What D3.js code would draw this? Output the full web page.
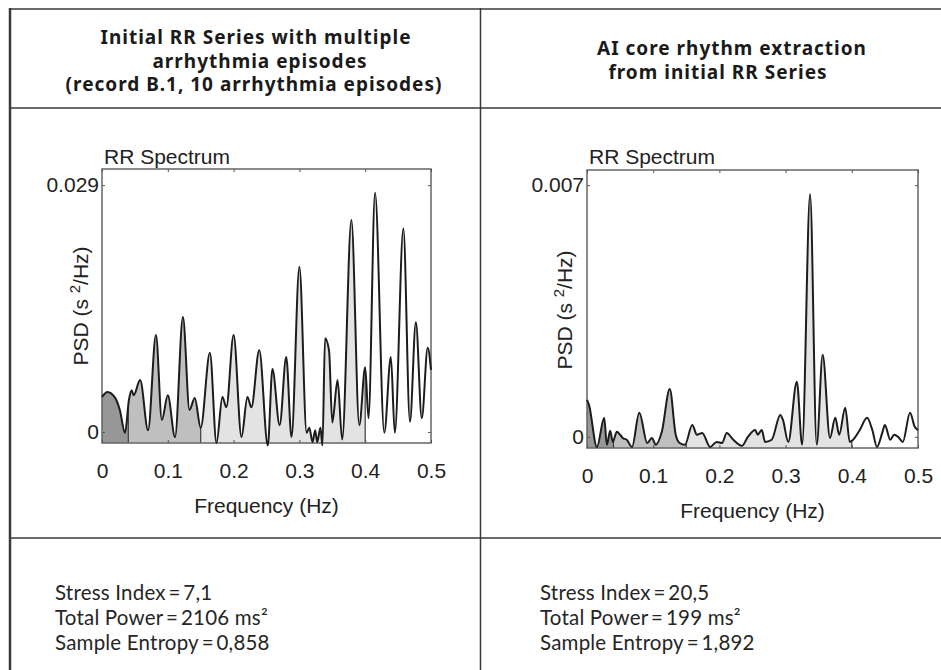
<!DOCTYPE html>
<html>
<head>
<meta charset="utf-8">
<script src="https://cdn.jsdelivr.net/npm/d3@7"></script>
<style>
  body { margin: 0; background: #fff; }
  .mat text { font-family: "Liberation Sans", Arial, sans-serif; fill: #222; }
  .hdr { font-family: "Noto Sans", "Open Sans", sans-serif; font-weight: 700; fill: #1a1a1a; letter-spacing: 1px; }
  .stat { font-family: Lato, "Open Sans", sans-serif; font-weight: 400; fill: #262626; letter-spacing: 0.2px; }
</style>
</head>
<body>
<svg id="chart" width="941" height="670"></svg>
<script>
// ---- data ----
var freqTicks = [0, 0.1, 0.2, 0.3, 0.4, 0.5];
var bandNames = ["VLF", "LF", "HF"];
var bandEdges = [0, 0.04, 0.15, 0.4];

// initial RR series (record B.1)
var leftFreq = [0, 0.008, 0.020, 0.027, 0.035, 0.041, 0.045, 0.048, 0.058, 0.070,
  0.082, 0.091, 0.100, 0.111, 0.123, 0.133, 0.141, 0.150, 0.164, 0.174,
  0.183, 0.189, 0.200, 0.212, 0.221, 0.227, 0.239, 0.252, 0.259, 0.270,
  0.280, 0.288, 0.300, 0.311, 0.315, 0.320, 0.324, 0.327, 0.332, 0.335,
  0.339, 0.345, 0.350, 0.358, 0.365, 0.379, 0.391, 0.400, 0.405, 0.415,
  0.429, 0.439, 0.445, 0.458, 0.468, 0.477, 0.486, 0.495, 0.500];
var leftPsd = [0.0041, 0.0047, 0.0040, 0.0026, -0.0001, 0.0038, 0.0049, 0.0043, 0.0061, 0.0002,
  0.0114, 0.0014, 0.0043, -0.0006, 0.0135, 0.0026, 0.0040, 0.0005, 0.0093, -0.0013,
  0.0041, 0.0029, 0.0114, -0.0006, 0.0041, 0.0029, 0.0096, -0.0016, 0.0074, 0.0008,
  0.0088, -0.0006, 0.0194, -0.0001, 0.0005, -0.0012, 0.0002, -0.0012, 0.0005, -0.0016,
  0.0110, 0.0096, 0.0011, 0.0061, -0.0009, 0.0249, 0.0008, 0.0076, 0.0016, 0.0281,
  -0.0001, 0.0088, -0.0001, 0.0239, 0.0012, 0.0129, 0.0016, 0.0099, 0.0073];
var leftYTicks = [0, 0.029];
var leftYLimits = [-0.0013, 0.0309];

// AI core rhythm
var rightFreq = [0, 0.003, 0.015, 0.026, 0.030, 0.035, 0.039, 0.045, 0.050, 0.054,
  0.060, 0.068, 0.079, 0.091, 0.098, 0.104, 0.113, 0.125, 0.134, 0.140,
  0.148, 0.159, 0.166, 0.174, 0.186, 0.196, 0.204, 0.211, 0.221, 0.234,
  0.243, 0.254, 0.258, 0.264, 0.269, 0.279, 0.292, 0.296, 0.304, 0.317,
  0.325, 0.337, 0.347, 0.356, 0.367, 0.375, 0.381, 0.390, 0.397, 0.402,
  0.412, 0.423, 0.431, 0.438, 0.446, 0.450, 0.458, 0.464, 0.470, 0.477,
  0.488, 0.495, 0.500];
var rightPsd = [0.00103, 0.00089, -0.00028, 0.00053, -0.00022, 0.00017, -0.00014, 0.00014, 0.00006, -0.00003,
  -0.00008, -0.00028, 0.00067, -0.00017, -0.00003, -0.00022, 0.00014, 0.00133, 0.00006, -0.00017,
  -0.00022, 0.00033, 0.00006, 0.00011, -0.00028, -0.00014, -0.00017, 0.00011, -0.00008, -0.00025,
  0.00000, 0.00019, 0.00006, 0.00019, -0.00014, -0.00008, 0.00061, 0.00047, -0.00014, 0.00153,
  -0.00022, 0.00675, -0.00022, 0.00228, -0.00003, 0.00053, 0.00006, 0.00081, -0.00014, -0.00008,
  0.00019, 0.00053, 0.00019, -0.00028, 0.00011, 0.00033, -0.00008, 0.00006, 0.00000, -0.00014,
  0.00067, 0.00028, 0.00019];
var rightYTicks = [0, 0.007];
var rightYLimits = [-0.00031, 0.00742];

var leftHeader = ["Initial RR Series with multiple", "arrhythmia episodes", "(record B.1, 10 arrhythmia episodes)"];
var rightHeader = ["AI core rhythm extraction", "from initial RR Series"];
var leftStats = ["Stress Index\u2009=\u20097,1", "Total Power\u2009=\u20092106 ms\u00b2", "Sample Entropy\u2009=\u20090,858"];
var rightStats = ["Stress Index\u2009=\u200920,5", "Total Power\u2009=\u2009199 ms\u00b2", "Sample Entropy\u2009=\u20091,892"];

var svg = d3.select("#chart");
var defs = svg.append("defs");

// ---- table frame ----
var frame = svg.append("g").attr("stroke", "#3a3a3a").attr("fill", "none");
frame.append("line").attr("x1", 10).attr("x2", 941).attr("y1", 9).attr("y2", 9).attr("stroke-width", 1.5);
frame.append("line").attr("x1", 10).attr("x2", 941).attr("y1", 108).attr("y2", 108).attr("stroke-width", 1.5);
frame.append("line").attr("x1", 10).attr("x2", 941).attr("y1", 538).attr("y2", 538).attr("stroke-width", 1.5);
frame.append("line").attr("x1", 10).attr("x2", 10).attr("y1", 8).attr("y2", 670).attr("stroke-width", 2.5);
frame.append("line").attr("x1", 480.5).attr("x2", 480.5).attr("y1", 8).attr("y2", 670).attr("stroke-width", 1.5);

// ---- headers ----
function draw_header(lines, xs, y0, step) {
    svg.append("g").selectAll("text")
        .data(lines)
        .enter().append("text")
        .attr("class", "hdr")
        .attr("font-size", 19)
        .attr("text-anchor", "middle")
        .attr("x", function(d, i) { return xs[i]; })
        .attr("y", function(d, i) { return y0 + i * step; })
        .text(function(d) { return d; });
}
draw_header(leftHeader, [256, 260, 254], 44, 23.5);
draw_header(rightHeader, [732, 718], 55, 24);

// ---- stats ----
function draw_stats(lines, x0) {
    svg.append("g").selectAll("text")
        .data(lines)
        .enter().append("text")
        .attr("class", "stat")
        .attr("font-size", 20.5)
        .attr("x", x0)
        .attr("y", function(d, i) { return 600 + i * 25; })
        .text(function(d) { return d; });
}
draw_stats(leftStats, 55);
draw_stats(rightStats, 540);

// ---- spectra ----
var bandColor = d3.scaleOrdinal().domain(bandNames).range(["#979797", "#bfbfbf", "#e3e3e3"]);

function draw_spectrum(id, freq, psd, yTicks, yLimits, box) {
    var x = d3.scaleLinear().domain([0, 0.5]).range([box.x0, box.x1]);
    var y = d3.scaleLinear().domain(yLimits).range([box.y1, box.y0]);
    var pts = freq.map(function(f, i) { return [f, psd[i]]; });
    var g = svg.append("g").attr("class", "mat");

    var area = d3.area()
        .x(function(d) { return x(d[0]); })
        .y0(box.y1)
        .y1(function(d) { return y(d[1]); })
        .curve(d3.curveMonotoneX);
    var line = d3.line()
        .x(function(d) { return x(d[0]); })
        .y(function(d) { return y(d[1]); })
        .curve(d3.curveMonotoneX);

    var bands = bandNames.map(function(n, i) { return { name: n, from: bandEdges[i], to: bandEdges[i + 1] }; });
    bands.forEach(function(b) {
        defs.append("clipPath").attr("id", id + "-" + b.name)
            .append("rect")
            .attr("x", x(b.from)).attr("width", x(b.to) - x(b.from))
            .attr("y", box.y0).attr("height", box.y1 - box.y0 + 10);
        g.append("path").datum(pts)
            .attr("d", area)
            .attr("fill", bandColor(b.name))
            .attr("clip-path", "url(#" + id + "-" + b.name + ")");
    });

    defs.append("clipPath").attr("id", id + "-area")
        .append("path").datum(pts).attr("d", area);
    g.append("g").attr("clip-path", "url(#" + id + "-area)")
        .selectAll("line")
        .data(bandEdges.slice(1))
        .enter().append("line")
        .attr("x1", function(d) { return x(d); })
        .attr("x2", function(d) { return x(d); })
        .attr("y1", box.y0).attr("y2", box.y1)
        .attr("stroke", "#3c3c3c").attr("stroke-width", 1.2);

    // box
    g.append("rect")
        .attr("x", box.x0).attr("y", box.y0)
        .attr("width", box.x1 - box.x0).attr("height", box.y1 - box.y0)
        .attr("fill", "none").attr("stroke", "#666").attr("stroke-width", 1.5);

    g.append("path").datum(pts)
        .attr("d", line)
        .attr("fill", "none")
        .attr("stroke", "#1c1c1c")
        .attr("stroke-width", 2);

    // axes, ticks pointing in
    var xb = g.append("g").attr("transform", "translate(0," + box.y1 + ")")
        .call(d3.axisBottom(x).tickValues(freqTicks).tickSizeInner(-3).tickSizeOuter(0).tickPadding(20)
            .tickFormat(function(d) { return String(d); }));
    var xt = g.append("g").attr("transform", "translate(0," + box.y0 + ")")
        .call(d3.axisTop(x).tickValues(freqTicks).tickSizeInner(-3).tickSizeOuter(0).tickFormat(""));
    var yl = g.append("g").attr("transform", "translate(" + box.x0 + ",0)")
        .call(d3.axisLeft(y).tickValues(yTicks).tickSizeInner(-3).tickSizeOuter(0).tickPadding(3)
            .tickFormat(function(d) { return String(d); }));
    var yr = g.append("g").attr("transform", "translate(" + box.x1 + ",0)")
        .call(d3.axisRight(y).tickValues(yTicks).tickSizeInner(-3).tickSizeOuter(0).tickFormat(""));
    [xb, xt, yl, yr].forEach(function(a) {
        a.select(".domain").remove();
        a.selectAll("line").attr("stroke", "#555");
        a.selectAll("text").attr("font-size", 21).attr("fill", "#222")
            .attr("font-family", "'Liberation Sans', Arial, sans-serif");
    });

    g.append("text")
        .attr("x", box.x0 + 2).attr("y", 164)
        .attr("font-size", 21)
        .text("RR Spectrum");

    g.append("text")
        .attr("x", (box.x0 + box.x1) / 2).attr("y", box.y1 + 70)
        .attr("text-anchor", "middle")
        .attr("font-size", 21)
        .text("Frequency (Hz)");

    var yt = g.append("text")
        .attr("transform", "translate(" + box.ylabX + "," + box.ylabY + ") rotate(-90)")
        .attr("text-anchor", "middle")
        .attr("font-size", 21);
    yt.append("tspan").text("PSD (s ");
    yt.append("tspan").attr("font-size", 15).attr("dy", -8).text("2");
    yt.append("tspan").attr("dy", 8).text("/Hz)");
}

draw_spectrum("lt", leftFreq, leftPsd, leftYTicks, leftYLimits,
    { x0: 102, x1: 431, y0: 169, y1: 443, ylabX: 88, ylabY: 306 });
draw_spectrum("rt", rightFreq, rightPsd, rightYTicks, rightYLimits,
    { x0: 587, x1: 918, y0: 170, y1: 448, ylabX: 572, ylabY: 310 });
</script>
</body>
</html>
